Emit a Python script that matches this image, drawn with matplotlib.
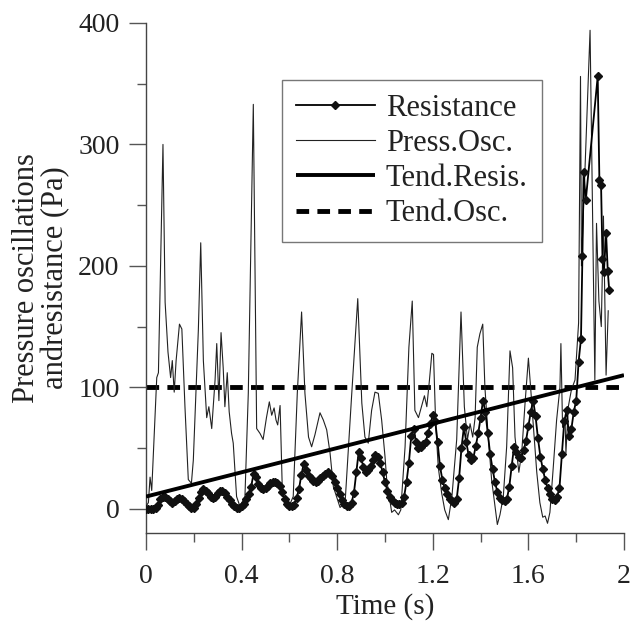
import numpy as np
import matplotlib
matplotlib.use("Agg")
import matplotlib.pyplot as plt

plt.rcParams['font.family'] = ['Liberation Serif', 'DejaVu Serif']
plt.rcParams['mathtext.fontset'] = 'stix'

# ---------------- data ----------------
# Resistance sampled every 0.01 s from 0 to 1.82 s
res_grid_values = [
    0, 0, 0, 0, 1, 3, 8, 10, 10, 8,            # 0.00-0.09
    6, 5, 6, 8, 9, 8, 6, 4, 2, 1,              # 0.10-0.19
    1, 4, 9, 14, 16, 15, 13, 10, 9, 10,        # 0.20-0.29
    13, 15, 15, 13, 10, 7, 4, 2, 1, 1,         # 0.30-0.39
    2, 4, 8, 12, 18, 29, 26, 20, 17, 16,       # 0.40-0.49
    17, 19, 21, 22, 22, 21, 19, 14, 8, 4,      # 0.50-0.59
    2, 2, 3, 9, 16, 28, 37, 32, 27, 25,        # 0.60-0.69
    23, 22, 23, 25, 27, 29, 30, 29, 27, 22,    # 0.70-0.79
    17, 12, 7, 4, 2, 2, 5, 13, 30, 47,         # 0.80-0.89
    42, 34, 30, 32, 35, 40, 44, 43, 38, 30,    # 0.90-0.99
    22, 15, 10, 7, 5, 4, 4, 5, 10, 22,         # 1.00-1.09
    38, 60, 66, 55, 50, 51, 53, 55, 62, 70,    # 1.10-1.19
    77, 72, 55, 35, 24, 17, 12, 8, 6, 5,       # 1.20-1.29
    8, 25, 50, 67, 55, 44, 40, 42, 52, 62,     # 1.30-1.39
    75, 89, 80, 62, 45, 33, 22, 14, 9, 7,      # 1.40-1.49
    6, 8, 18, 35, 51, 47, 43, 42, 48, 56,      # 1.50-1.59
    68, 80, 89, 76, 58, 43, 33, 24, 17, 12,    # 1.60-1.69
    8, 7, 10, 17, 45, 72, 81, 60, 66, 80,      # 1.70-1.79
    89, 121, 140,                              # 1.80-1.82
]
res_grid_time = np.round(np.arange(len(res_grid_values)) * 0.01, 2)
# irregular tail of the resistance record
res_tail_time = [1.826, 1.831, 1.840, 1.890, 1.897, 1.904, 1.910, 1.916, 1.925, 1.932, 1.938]
res_tail_values = [208, 277, 254, 356, 271, 267, 206, 195, 227, 196, 180]

time_res = np.concatenate([res_grid_time, res_tail_time])
resistance = np.concatenate([res_grid_values, res_tail_values])

time_osc = [
    0.000, 0.010, 0.017, 0.024, 0.038, 0.045, 0.052, 0.071, 0.080, 0.092,
    0.103, 0.110, 0.118, 0.126, 0.140, 0.150, 0.163, 0.177, 0.190, 0.198,
    0.219, 0.229, 0.240, 0.254, 0.263, 0.275, 0.289, 0.296, 0.305, 0.314,
    0.323, 0.330, 0.340, 0.348, 0.358, 0.365, 0.379, 0.393, 0.414, 0.428,
    0.449, 0.463, 0.477, 0.490, 0.504, 0.516, 0.526, 0.536, 0.544, 0.551,
    0.561, 0.570, 0.582, 0.596, 0.616, 0.633, 0.651, 0.665, 0.680, 0.693,
    0.707, 0.728, 0.742, 0.756, 0.770, 0.784, 0.812, 0.833, 0.860, 0.886,
    0.903, 0.916, 0.930, 0.944, 0.958, 0.972, 0.986, 1.000, 1.007, 1.028,
    1.040, 1.056, 1.066, 1.084, 1.100, 1.114, 1.125, 1.140, 1.154, 1.165,
    1.175, 1.186, 1.196, 1.203, 1.212, 1.223, 1.237, 1.250, 1.265, 1.280,
    1.300, 1.318, 1.332, 1.345, 1.356, 1.367, 1.377, 1.386, 1.397, 1.409,
    1.418, 1.432, 1.446, 1.460, 1.470, 1.481, 1.495, 1.509, 1.523, 1.534,
    1.544, 1.560, 1.572, 1.586, 1.600, 1.610, 1.620, 1.635, 1.648, 1.660,
    1.670, 1.680, 1.690, 1.704, 1.718, 1.732, 1.736, 1.743, 1.753, 1.757,
    1.767, 1.780, 1.795, 1.810, 1.818, 1.822, 1.858, 1.878, 1.885, 1.895,
    1.905, 1.914, 1.925, 1.934,
]
press_osc = [
    2, 5, 26, 15, 78, 108, 112, 300, 170, 129,
    108, 122, 96, 122, 152, 148, 84, 24, 21, 40,
    147, 219, 122, 75, 84, 66, 106, 136, 89, 145,
    116, 84, 112, 80, 62, 54, 10, 2, 10, 95,
    333, 66, 62, 57, 75, 88, 77, 83, 73, 69,
    85, 18, 2, 1, 10, 95, 162, 95, 59, 51,
    61, 79, 73, 65, 46, 18, 1, 5, 92, 173,
    87, 59, 54, 81, 96, 95, 73, 43, 24, -3,
    -1, -5, -1, 51, 133, 171, 81, 75, 85, 93,
    84, 106, 128, 127, 70, 34, 13, -1, -9, 10,
    57, 162, 84, 57, 70, 59, 75, 133, 144, 152,
    100, 59, 24, 2, -13, -5, 10, 51, 130, 116,
    59, 30, 46, 87, 124, 98, 70, 30, 5, -7,
    -6, -12, -3, 34, 73, 100, 136, 67, 75, 46,
    84, 98, 106, 153, 356, 200, 394, 106, 235, 171,
    150, 241, 110, 163,
]

trend_time = [0, 2]
tend_resis = [10, 110]
tend_osc = [100, 100]

x_ticks = [0, 0.4, 0.8, 1.2, 1.6, 2]
x_tick_labels = ["0", "0.4", "0.8", "1.2", "1.6", "2"]
y_ticks = [0, 100, 200, 300, 400]

# ---------------- figure ----------------
fig = plt.figure(figsize=(6.31, 6.24), dpi=100)
ax = fig.add_axes([146 / 631, 91 / 624, 478 / 631, 510 / 624])

ax.plot(time_res, resistance, color='black', lw=1.3, marker='D', ms=4.4,
        mec='#111111', mfc='#111111', label='Resistance', zorder=4)
ax.plot(time_osc, press_osc, color='#222222', lw=0.8, label='Press.Osc.', zorder=3)
ax.plot(trend_time, tend_resis, color='black', lw=2.8, label='Tend.Resis.',
        solid_capstyle='butt', zorder=5)
ax.plot(trend_time, tend_osc, color='black', lw=3.5, ls=(0, (2.6, 1.7)),
        label='Tend.Osc.', zorder=2)

ax.set_xlim(0, 2)
ax.set_ylim(-20, 400)
ax.set_xticks(x_ticks)
ax.set_xticklabels(x_tick_labels)
ax.set_xticks(np.arange(0, 2.01, 0.2), minor=True)
ax.set_yticks(y_ticks)
ax.set_yticks([50, 150, 250, 350], minor=True)

for s in ['top', 'right']:
    ax.spines[s].set_visible(False)
for s in ['left', 'bottom']:
    ax.spines[s].set_color('#444444')
    ax.spines[s].set_linewidth(1.0)

ax.tick_params(axis='both', which='major', direction='out', length=12,
               width=1.0, color='#555555', labelsize=20, labelcolor='#222222')
ax.tick_params(axis='both', which='minor', direction='out', length=6.5,
               width=1.0, color='#555555')
ax.tick_params(axis='x', which='major', pad=10)
ax.tick_params(axis='y', which='major', pad=7)

ax.set_xlabel('Time (s)', fontsize=21, color='#222222', labelpad=3)
ax.set_ylabel('Pressure oscillations\nandresistance (Pa)', fontsize=22,
              color='#222222', labelpad=6, linespacing=1.0)

leg = ax.legend(loc='upper left', bbox_to_anchor=(0.2845, 0.888), fontsize=22,
                frameon=True, fancybox=False, edgecolor='#555555',
                handlelength=2.6, handletextpad=0.35, labelspacing=0.2,
                borderpad=0.45, borderaxespad=0)
leg.get_frame().set_linewidth(1.0)
for t in leg.get_texts():
    t.set_color('#222222')

fig.savefig('out.png', dpi=100)
